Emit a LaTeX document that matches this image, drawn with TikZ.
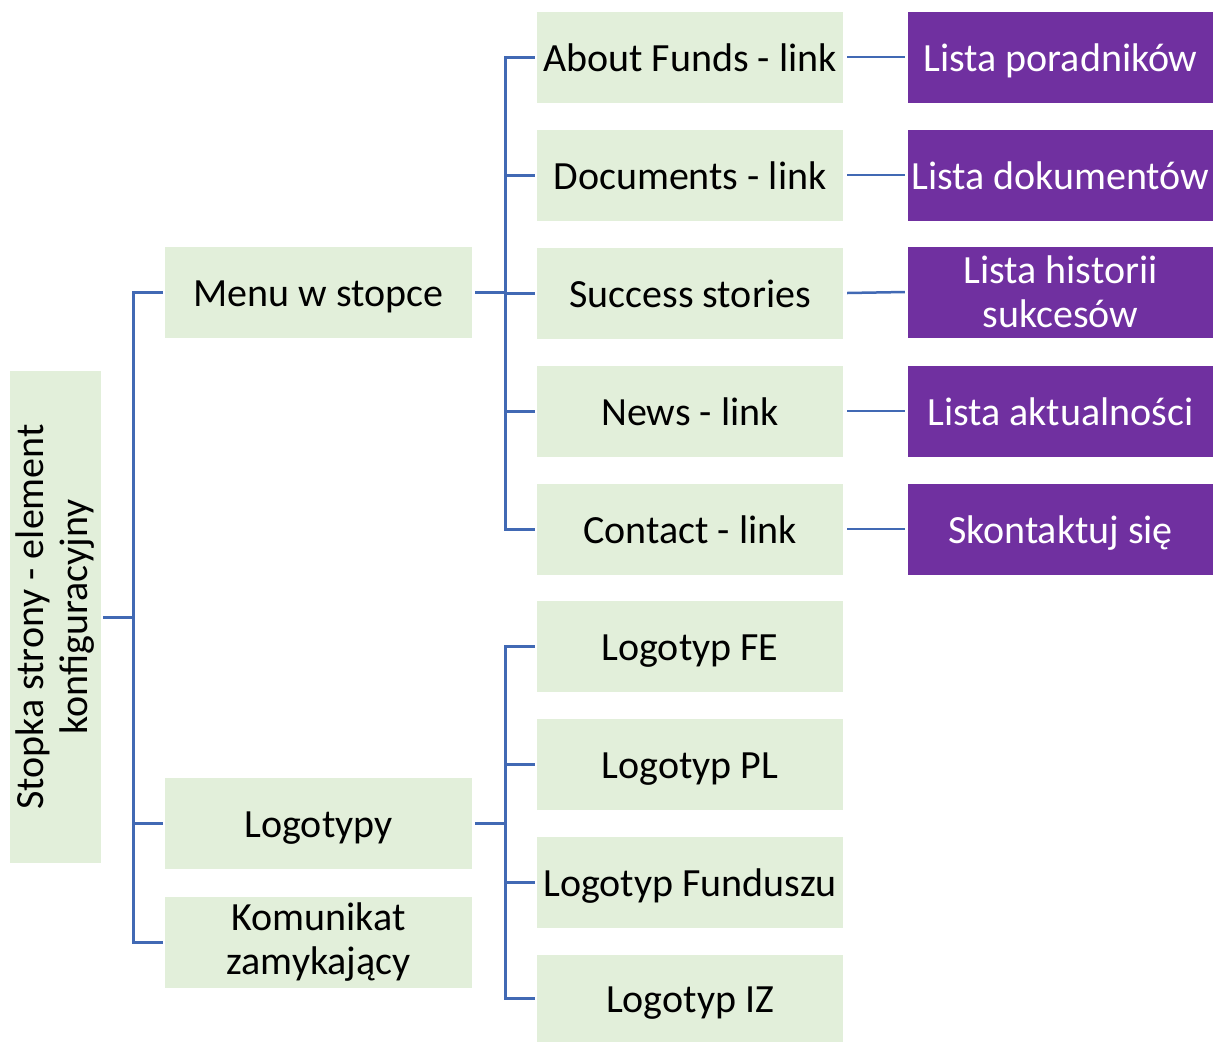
\documentclass[tikz,border=0pt]{standalone}
\usepackage{fontspec}
\setmainfont{Carlito}
\definecolor{boxgreen}{HTML}{E2EFDA}
\definecolor{boxpurple}{HTML}{7030A0}
\definecolor{conn}{HTML}{4169B4}
\begin{document}
\begin{tikzpicture}[x=1pt,y=-1pt,
  gbox/.style={fill=boxgreen,draw=none,inner sep=0pt,minimum width=307pt,minimum height=91pt,align=center,font=\fontsize{40}{44}\selectfont,text=black},
  pbox/.style={fill=boxpurple,draw=none,inner sep=0pt,minimum width=305pt,minimum height=91pt,align=center,font=\fontsize{40}{44}\selectfont,text=white},
  oneline/.style={text height=30pt,text depth=2pt},
  link/.style={draw=conn,line width=3pt}]
\useasboundingbox (0,0) rectangle (1213,1042);
% root
\node[fill=boxgreen,inner sep=0pt,minimum width=492pt,minimum height=91pt,rotate=90,align=center,font=\fontsize{40}{44}\selectfont] (root) at (55.5,617) {Stopka strony - element\\konfiguracyjny};
% level 1
\node[gbox,oneline,minimum width=307pt] (menu) at (318.5,292.5) {Menu w stopce};
\node[gbox,oneline,minimum width=307pt] (logo) at (318.5,823) {Logotypy};
\node[gbox,minimum width=307pt] (kom) at (318.5,942) {Komunikat\\zamykający};
% level 2 menu
\node[gbox,oneline,minimum width=306pt] (about) at (690,57) {About Funds - link};
\node[gbox,oneline,minimum width=306pt] (docs) at (690,175) {Documents - link};
\node[gbox,oneline,minimum width=306pt] (succ) at (690,293) {Success stories};
\node[gbox,oneline,minimum width=306pt] (news) at (690,411) {News - link};
\node[gbox,oneline,minimum width=306pt] (cont) at (690,529) {Contact - link};
% level 2 logos
\node[gbox,oneline,minimum width=306pt] (fe) at (690,646) {Logotyp FE};
\node[gbox,oneline,minimum width=306pt] (pl) at (690,764) {Logotyp PL};
\node[gbox,oneline,minimum width=306pt] (fund) at (690,882) {Logotyp Funduszu};
\node[gbox,oneline,minimum width=306pt,minimum height=87pt] (iz) at (690,998.5) {Logotyp IZ};
% level 3
\node[pbox,oneline] (lpor) at (1060.5,57) {Lista poradników};
\node[pbox,oneline] (ldok) at (1060.5,175) {Lista dokumentów};
\node[pbox] (lhist) at (1060.5,292) {Lista historii\\sukcesów};
\node[pbox,oneline] (lakt) at (1060.5,411) {Lista aktualności};
\node[pbox,oneline] (lkon) at (1060.5,529) {Skontaktuj się};
% buses
\coordinate (b1) at (133,0);
\coordinate (b2) at (505,0);
\draw[link] ([xshift=2pt]root.south) -- (root.south -| b1);
\draw[link] ([xshift=-2pt]menu.west) -- (menu.west -| b1) -- (kom.west -| b1) -- ([xshift=-2pt]kom.west);
\draw[link] ([xshift=-2pt]logo.west) -- (logo.west -| b1);
\draw[link] ([xshift=3pt]menu.east) -- (menu.east -| b2);
\draw[link] ([xshift=-2pt]about.west) -- (about.west -| b2) -- (cont.west -| b2) -- ([xshift=-2pt]cont.west);
\foreach \n in {docs,succ,news}{\draw[link] ([xshift=-2pt]\n.west) -- (\n.west -| b2);}
\draw[link] ([xshift=3pt]logo.east) -- (logo.east -| b2);
\draw[link] ([xshift=-2pt]fe.west) -- (fe.west -| b2) -- (iz.west -| b2) -- ([xshift=-2pt]iz.west);
\draw[link] ([xshift=-2pt]pl.west) -- (pl.west -| b2);
\draw[link] ([xshift=-2pt]fund.west) -- (fund.west -| b2);
\draw[link,line width=2.5pt] ([xshift=4pt]about.east) -- ([xshift=-3pt]lpor.west);
\draw[link,line width=2.5pt] ([xshift=4pt]docs.east) -- ([xshift=-3pt]ldok.west);
\draw[link,line width=2.5pt] ([xshift=4pt]succ.east) -- ([xshift=-3pt]lhist.west);
\draw[link,line width=2.5pt] ([xshift=4pt]news.east) -- ([xshift=-3pt]lakt.west);
\draw[link,line width=2.5pt] ([xshift=4pt]cont.east) -- ([xshift=-3pt]lkon.west);
\end{tikzpicture}
\end{document}
